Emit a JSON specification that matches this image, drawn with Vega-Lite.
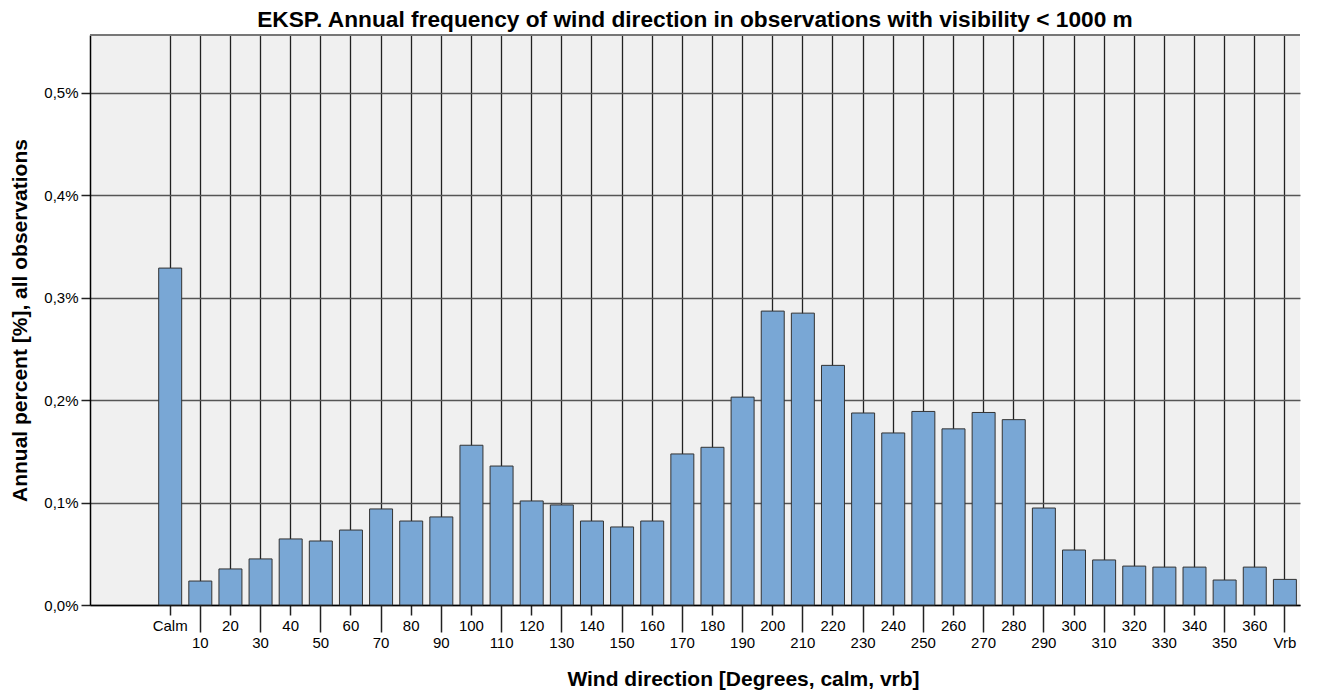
{
  "$schema": "https://vega.github.io/schema/vega-lite/v6.json",
  "width": 1210,
  "height": 570,
  "autosize": {"type": "none"},
  "padding": {"left": 90, "top": 35, "right": 17, "bottom": 88},
  "background": "white",
  "title": {
    "text": "EKSP. Annual frequency of wind direction in observations with visibility < 1000 m",
    "font": "Liberation Sans",
    "fontSize": 22.7,
    "fontWeight": "bold",
    "color": "black",
    "anchor": "middle",
    "baseline": "alphabetic",
    "offset": 10,
    "dy": 25
  },
  "config": {
    "view": {"fill": "#f0f0f0", "stroke": null},
    "font": "Liberation Sans"
  },
  "data": {
    "values": [
      {"dir": "Calm", "pct": 0.329},
      {"dir": "10", "pct": 0.0234},
      {"dir": "20", "pct": 0.0352},
      {"dir": "30", "pct": 0.045},
      {"dir": "40", "pct": 0.0645},
      {"dir": "50", "pct": 0.0625},
      {"dir": "60", "pct": 0.0732},
      {"dir": "70", "pct": 0.0938},
      {"dir": "80", "pct": 0.082},
      {"dir": "90", "pct": 0.086},
      {"dir": "100", "pct": 0.156},
      {"dir": "110", "pct": 0.1357},
      {"dir": "120", "pct": 0.1016},
      {"dir": "130", "pct": 0.0977},
      {"dir": "140", "pct": 0.082},
      {"dir": "150", "pct": 0.0762},
      {"dir": "160", "pct": 0.082},
      {"dir": "170", "pct": 0.1475},
      {"dir": "180", "pct": 0.154},
      {"dir": "190", "pct": 0.203},
      {"dir": "200", "pct": 0.287},
      {"dir": "210", "pct": 0.285},
      {"dir": "220", "pct": 0.234},
      {"dir": "230", "pct": 0.1875},
      {"dir": "240", "pct": 0.168},
      {"dir": "250", "pct": 0.189},
      {"dir": "260", "pct": 0.172},
      {"dir": "270", "pct": 0.188},
      {"dir": "280", "pct": 0.181},
      {"dir": "290", "pct": 0.0947},
      {"dir": "300", "pct": 0.0537},
      {"dir": "310", "pct": 0.044},
      {"dir": "320", "pct": 0.038},
      {"dir": "330", "pct": 0.037},
      {"dir": "340", "pct": 0.037},
      {"dir": "350", "pct": 0.0244},
      {"dir": "360", "pct": 0.037},
      {"dir": "Vrb", "pct": 0.025}
    ]
  },
  "resolve": {"axis": {"x": "independent"}},
  "layer": [
    {
      "mark": {"type": "rule", "color": "#777777", "strokeWidth": 1.5},
      "encoding": {"y": {"datum": 0.5566, "type": "quantitative"}}
    },
    {
      "mark": {"type": "bar", "fill": "#79a7d5", "stroke": "#333333", "strokeWidth": 1},
      "encoding": {
        "x": {
          "field": "dir",
          "type": "nominal",
          "scale": {
            "type": "band",
            "domain": ["_a", "_b", "Calm", "10", "20", "30", "40", "50", "60", "70", "80", "90", "100", "110", "120", "130", "140", "150", "160", "170", "180", "190", "200", "210", "220", "230", "240", "250", "260", "270", "280", "290", "300", "310", "320", "330", "340", "350", "360", "Vrb"],
            "paddingInner": 0.237,
            "paddingOuter": 0.2,
            "align": 0.7
          },
          "axis": {
            "orient": "bottom",
            "values": ["Calm", "20", "40", "60", "80", "100", "120", "140", "160", "180", "200", "220", "240", "260", "280", "300", "320", "340", "360"],
            "title": "Wind direction [Degrees, calm, vrb]",
            "titleFont": "Liberation Sans",
            "titleFontSize": 21,
            "titleFontWeight": "bold",
            "titleColor": "black",
            "titleX": 653,
            "titleY": 80,
            "titleAlign": "center",
            "titleBaseline": "alphabetic",
            "labelFont": "Liberation Sans",
            "labelFontSize": 15,
            "labelColor": "black",
            "labelAngle": 0,
            "labelPadding": 3,
            "labelOverlap": false,
            "tickSize": 10,
            "tickColor": "#222222",
            "tickWidth": 1.5,
            "bandPosition": 0.5,
            "grid": false,
            "domainColor": "black",
            "domainWidth": 1.5
          }
        },
        "y": {
          "field": "pct",
          "type": "quantitative",
          "scale": {"domain": [0, 0.5566], "nice": false, "zero": true},
          "axis": {
            "title": "Annual percent [%], all observations",
            "titleFont": "Liberation Sans",
            "titleFontSize": 21,
            "titleFontWeight": "bold",
            "titleColor": "black",
            "titleX": -64,
            "titleY": 285,
            "titleAngle": -90,
            "titleAlign": "center",
            "titleBaseline": "alphabetic",
            "values": [0, 0.1, 0.2, 0.3, 0.4, 0.5],
            "labelExpr": "replace(format(datum.value, '.1f'), '.', ',') + '%'",
            "labelFont": "Liberation Sans",
            "labelFontSize": 15,
            "labelColor": "black",
            "labelPadding": 3,
            "tickSize": 9,
            "tickColor": "#222222",
            "tickWidth": 1.5,
            "grid": true,
            "gridColor": "#555555",
            "gridWidth": 1.5,
            "domainColor": "black",
            "domainWidth": 1.5
          }
        }
      }
    },
    {
      "mark": {"type": "bar", "opacity": 0},
      "encoding": {
        "x": {
          "field": "dir",
          "type": "nominal",
          "axis": {
            "orient": "bottom",
            "values": ["10", "30", "50", "70", "90", "110", "130", "150", "170", "190", "210", "230", "250", "270", "290", "310", "330", "350", "Vrb"],
            "title": null,
            "labelFont": "Liberation Sans",
            "labelFontSize": 15,
            "labelColor": "black",
            "labelAngle": 0,
            "labelPadding": 3,
            "labelOverlap": false,
            "tickSize": 27,
            "tickColor": "#222222",
            "tickWidth": 1.5,
            "bandPosition": 0.5,
            "grid": false,
            "domain": false
          }
        },
        "y": {"field": "pct", "type": "quantitative"}
      }
    },
    {
      "mark": {"type": "bar", "opacity": 0},
      "encoding": {
        "x": {
          "field": "dir",
          "type": "nominal",
          "axis": {
            "orient": "bottom",
            "values": ["Calm", "10", "20", "30", "40", "50", "60", "70", "80", "90", "100", "110", "120", "130", "140", "150", "160", "170", "180", "190", "200", "210", "220", "230", "240", "250", "260", "270", "280", "290", "300", "310", "320", "330", "340", "350", "360", "Vrb"],
            "title": null,
            "labels": false,
            "ticks": false,
            "domain": false,
            "bandPosition": 0.5,
            "grid": true,
            "gridColor": "#222222",
            "gridWidth": 1.3
          }
        },
        "y": {"field": "pct", "type": "quantitative"}
      }
    }
  ]
}
